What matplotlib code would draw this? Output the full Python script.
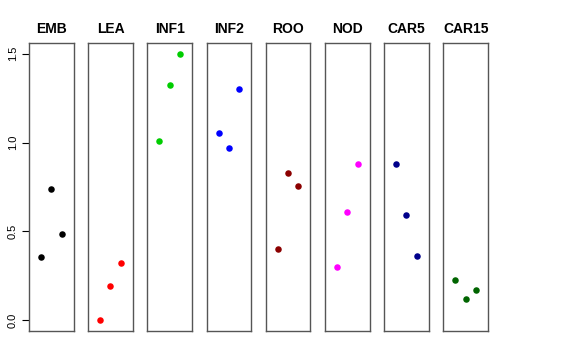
import numpy as np
import matplotlib
matplotlib.use("Agg")
import matplotlib.pyplot as plt

plt.rcParams["font.family"] = ["Liberation Sans", "DejaVu Sans"]

GROUPS = ["EMB", "LEA", "INF1", "INF2", "ROO", "NOD", "CAR5", "CAR15"]
COLORS = ["#000000", "#FF0000", "#00CD00", "#0000FF",
          "#8B0000", "#FF00FF", "#00008B", "#006400"]
X_POS = [1, 2, 3]
VALUES = [
    [0.358, 0.740, 0.487],
    [0.000, 0.195, 0.322],
    [1.011, 1.326, 1.496],
    [1.056, 0.972, 1.303],
    [0.404, 0.826, 0.758],
    [0.298, 0.607, 0.882],
    [0.880, 0.592, 0.361],
    [0.226, 0.118, 0.169],
]

W, H = 576, 360
fig = plt.figure(figsize=(W / 100, H / 100), dpi=100)

for i, (name, col, vals) in enumerate(zip(GROUPS, COLORS, VALUES)):
    left = 29 + 59.2 * i
    ax = fig.add_axes([left / W, 29 / H, 44.5 / W, 288 / H])
    ax.scatter(X_POS, vals, s=22, color=col, zorder=3, linewidths=0)
    ax.set_xlim(-0.16, 4.16)
    ax.set_ylim(-0.06, 1.56)
    ax.set_xticks([])
    for sp in ax.spines.values():
        sp.set_color("#555555")
        sp.set_linewidth(1.0)
    ax.set_title(name, fontsize=10, fontweight="bold", pad=7)
    if i == 0:
        ax.set_yticks([0.0, 0.5, 1.0, 1.5])
        ax.set_yticklabels(["0.0", "0.5", "1.0", "1.5"], rotation=90,
                           va="center", fontsize=8)
        ax.tick_params(axis="y", length=5, width=0.8, pad=3)
    else:
        ax.set_yticks([])

fig.savefig("out.png", dpi=100)
